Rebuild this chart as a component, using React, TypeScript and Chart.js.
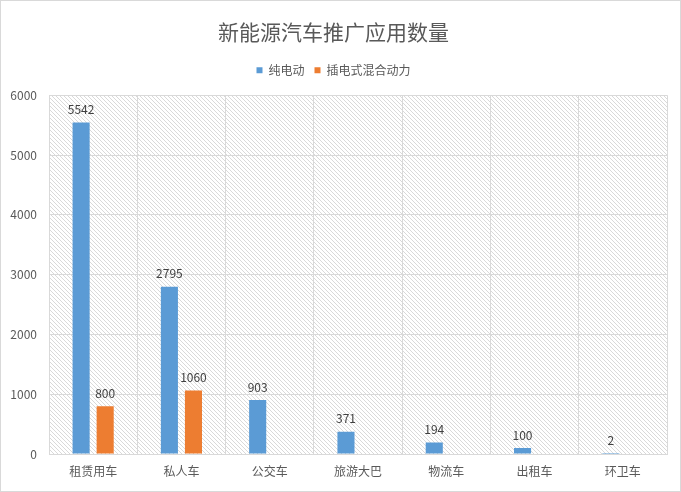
import React, { useEffect, useRef } from "react";
import { Chart, registerables, Plugin } from "chart.js";

Chart.register(...registerables);

const categories = ["租赁用车", "私人车", "公交车", "旅游大巴", "物流车", "出租车", "环卫车"];
const pureElectric = [5542, 2795, 903, 371, 194, 100, 2];
const plugInHybrid: (number | null)[] = [800, 1060, null, null, null, null, null];
const yTicks = [0, 1000, 2000, 3000, 4000, 5000, 6000];

const FONT = "'Noto Sans CJK SC', 'Noto Sans', sans-serif";

function makeHatch(ctx: CanvasRenderingContext2D) {
    const tile = document.createElement("canvas");
    tile.width = 4;
    tile.height = 4;
    const t = tile.getContext("2d")!;
    t.fillStyle = "#ffffff";
    t.fillRect(0, 0, 4, 4);
    t.strokeStyle = "#cfcfcf";
    t.lineWidth = 0.8;
    t.beginPath();
    t.moveTo(-1, -1);
    t.lineTo(5, 5);
    t.moveTo(3, -1);
    t.lineTo(5, 1);
    t.moveTo(-1, 3);
    t.lineTo(1, 5);
    t.stroke();
    return ctx.createPattern(tile, "repeat");
}

const hatchBackground: Plugin<"bar"> = {
    id: "hatchBackground",
    beforeDraw(chart) {
        const { ctx, chartArea } = chart;
        const pattern = makeHatch(ctx);
        if (!pattern) return;
        ctx.save();
        ctx.fillStyle = pattern;
        ctx.fillRect(chartArea.left, chartArea.top, chartArea.right - chartArea.left, chartArea.bottom - chartArea.top);
        ctx.restore();
    },
};

// extra room under the legend, before the plot
const legendGap: Plugin<"bar"> = {
    id: "legendGap",
    afterInit(chart) {
        const lg: any = (chart as any).legend;
        if (!lg) return;
        const fit = lg.fit.bind(lg);
        lg.fit = () => {
            fit();
            lg.height += 9;
        };
    },
};

const valueLabels: Plugin<"bar"> = {
    id: "valueLabels",
    afterDatasetsDraw(chart) {
        const { ctx } = chart;
        ctx.save();
        ctx.font = `12px ${FONT}`;
        ctx.fillStyle = "#404040";
        ctx.textAlign = "center";
        ctx.textBaseline = "bottom";
        chart.data.datasets.forEach((ds, i) => {
            const meta = chart.getDatasetMeta(i);
            meta.data.forEach((bar, j) => {
                const v = ds.data[j];
                if (v == null) return;
                ctx.fillText(String(v), bar.x, bar.y - 7);
            });
        });
        ctx.restore();
    },
};

const outerBorder: Plugin<"bar"> = {
    id: "outerBorder",
    afterDraw(chart) {
        const { ctx, width, height } = chart;
        ctx.save();
        ctx.strokeStyle = "#d9d9d9";
        ctx.lineWidth = 1;
        ctx.strokeRect(0.5, 0.5, width - 1, height - 1);
        ctx.restore();
    },
};

export default function App() {
    const ref = useRef<HTMLCanvasElement | null>(null);

    useEffect(() => {
        document.body.style.margin = "0";
        if (!ref.current) return;

        const chart = new Chart(ref.current, {
            type: "bar",
            data: {
                labels: categories,
                datasets: [
                    {
                        label: "纯电动",
                        data: pureElectric,
                        backgroundColor: "#5B9BD5",
                        categoryPercentage: 0.545,
                        barPercentage: 0.71,
                    },
                    {
                        label: "插电式混合动力",
                        data: plugInHybrid,
                        backgroundColor: "#ED7D31",
                        categoryPercentage: 0.545,
                        barPercentage: 0.71,
                    },
                ],
            },
            options: {
                responsive: true,
                maintainAspectRatio: false,
                animation: false,
                layout: { padding: { left: 0, right: 14, top: 0, bottom: 0 } },
                plugins: {
                    title: {
                        display: true,
                        text: "新能源汽车推广应用数量",
                        color: "#595959",
                        font: { family: FONT, size: 21, weight: "normal" },
                        padding: { top: 19, bottom: 10 },
                    },
                    legend: {
                        display: true,
                        labels: {
                            color: "#595959",
                            font: { family: FONT, size: 12 },
                            boxWidth: 6,
                            boxHeight: 6,
                            padding: 10,
                        },
                    },
                    tooltip: { enabled: false },
                },
                scales: {
                    x: {
                        grid: { color: "#d9d9d9", offset: true, drawTicks: false },
                        border: { color: "#d9d9d9" },
                        ticks: {
                            color: "#595959",
                            font: { family: FONT, size: 12 },
                            padding: 10,
                        },
                        afterFit: (scale) => {
                            scale.height = 38;
                        },
                    },
                    y: {
                        min: 0,
                        max: 6000,
                        afterBuildTicks: (scale) => {
                            scale.ticks = yTicks.map((value) => ({ value }));
                        },
                        grid: { color: "#d9d9d9", drawTicks: false },
                        border: { color: "#d9d9d9" },
                        ticks: {
                            color: "#595959",
                            font: { family: FONT, size: 12 },
                            padding: 12,
                            callback: (v) => String(v),
                        },
                        afterFit: (scale) => {
                            scale.width = 49;
                        },
                    },
                },
            },
            plugins: [legendGap, hatchBackground, valueLabels, outerBorder],
        });

        return () => chart.destroy();
    }, []);

    return (
        <div style={{ position: "relative", width: 681, height: 492 }}>
            <canvas ref={ref} />
        </div>
    );
}
